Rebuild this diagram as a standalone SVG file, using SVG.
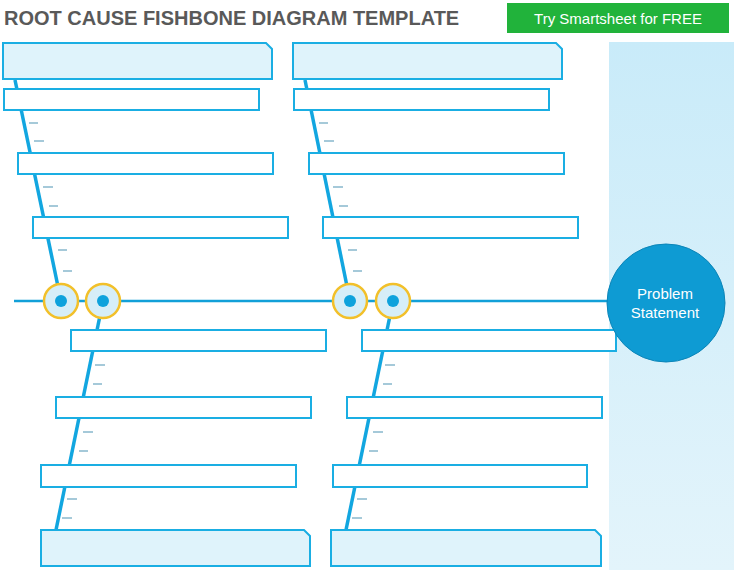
<svg xmlns="http://www.w3.org/2000/svg" width="737" height="573" viewBox="0 0 737 573">
<defs>
<style>
.hd{fill:#dff3fb;stroke:#1aaee3;stroke-width:2}
.bx{fill:#fff;stroke:#1aaee3;stroke-width:2}
.sp{stroke:#12a6e0;stroke-width:3.5;fill:none}
.ds{stroke:#6aa6c0;stroke-width:1.2}
.ring{fill:#d6eef8;stroke:#f2c02a;stroke-width:2.5}
.dot{fill:#0ea2dc}
</style>
<linearGradient id="pg" x1="0" y1="0" x2="0" y2="1"><stop offset="0" stop-color="#c9ebf9"/><stop offset="1" stop-color="#e3f4fb"/></linearGradient>
</defs>
<rect width="737" height="573" fill="#fff"/>
<rect x="609" y="42" width="125" height="528" fill="url(#pg)"/>
<text x="4" y="25" font-family="Liberation Sans, sans-serif" font-weight="bold" font-size="20" fill="#595959">ROOT CAUSE FISHBONE DIAGRAM TEMPLATE</text>
<g id="btn"><rect x="507" y="3" width="222" height="30" fill="#21b33b"/><text x="618" y="23.5" text-anchor="middle" font-family="Liberation Sans, sans-serif" font-size="15" fill="#fff">Try Smartsheet for FREE</text></g>
<g id="connectors">
<line x1="14" y1="301" x2="612" y2="301" stroke="#12a0d8" stroke-width="2.5"/>
<line class="sp" x1="15" y1="80" x2="61" y2="301"/>
<line class="sp" x1="305" y1="80" x2="350" y2="301"/>
<line class="sp" x1="103" y1="301" x2="56" y2="530"/>
<line class="sp" x1="393" y1="301" x2="346" y2="530"/>
<g class="ds">
<line x1="29" y1="123" x2="38" y2="123"/><line x1="34" y1="141" x2="44" y2="141"/><line x1="43" y1="187" x2="53" y2="187"/><line x1="49" y1="206" x2="58" y2="206"/><line x1="58" y1="250" x2="67" y2="250"/><line x1="63" y1="271" x2="72" y2="271"/>
<line x1="319" y1="123" x2="328" y2="123"/><line x1="324" y1="141" x2="334" y2="141"/><line x1="333" y1="187" x2="343" y2="187"/><line x1="339" y1="206" x2="348" y2="206"/><line x1="348" y1="250" x2="357" y2="250"/><line x1="353" y1="271" x2="362" y2="271"/>
<line x1="95" y1="365" x2="105" y2="365"/><line x1="93" y1="384" x2="102" y2="384"/><line x1="83" y1="432" x2="93" y2="432"/><line x1="79" y1="451" x2="88" y2="451"/><line x1="67" y1="499" x2="77" y2="499"/><line x1="62" y1="518" x2="72" y2="518"/>
<line x1="385" y1="365" x2="395" y2="365"/><line x1="383" y1="384" x2="392" y2="384"/><line x1="373" y1="432" x2="383" y2="432"/><line x1="369" y1="451" x2="378" y2="451"/><line x1="357" y1="499" x2="367" y2="499"/><line x1="352" y1="518" x2="362" y2="518"/>
</g>
</g>
<g id="tl"><path class="hd" d="M3 43 H266 L272 49 V79 H3 Z"/><rect class="bx" x="4" y="89" width="255" height="21"/><rect class="bx" x="18" y="153" width="255" height="21"/><rect class="bx" x="33" y="217" width="255" height="21"/></g>
<g id="tr"><path class="hd" d="M293 43 H556 L562 49 V79 H293 Z"/><rect class="bx" x="294" y="89" width="255" height="21"/><rect class="bx" x="309" y="153" width="255" height="21"/><rect class="bx" x="323" y="217" width="255" height="21"/></g>
<g id="bl"><rect class="bx" x="71" y="330" width="255" height="21"/><rect class="bx" x="56" y="397" width="255" height="21"/><rect class="bx" x="41" y="465" width="255" height="22"/><path class="hd" d="M41 530 H304 L310 536 V566 H41 Z"/></g>
<g id="br"><rect class="bx" x="362" y="330" width="254" height="21"/><rect class="bx" x="347" y="397" width="255" height="21"/><rect class="bx" x="333" y="465" width="254" height="22"/><path class="hd" d="M331 530 H595 L601 536 V566 H331 Z"/></g>
<g id="joints">
<circle class="ring" cx="61" cy="301" r="17"/><circle class="dot" cx="61" cy="301" r="6"/>
<circle class="ring" cx="103" cy="301" r="17"/><circle class="dot" cx="103" cy="301" r="6"/>
<circle class="ring" cx="350" cy="301" r="17"/><circle class="dot" cx="350" cy="301" r="6"/>
<circle class="ring" cx="393" cy="301" r="17"/><circle class="dot" cx="393" cy="301" r="6"/>
</g>
<g id="problem"><circle cx="666" cy="303" r="59" fill="#0e9bd3" stroke="#0c85b8" stroke-width="1"/>
<text x="665" y="299" text-anchor="middle" font-family="Liberation Sans, sans-serif" font-size="15" fill="#fff">Problem</text>
<text x="665" y="318" text-anchor="middle" font-family="Liberation Sans, sans-serif" font-size="15" fill="#fff">Statement</text></g>
</svg>
